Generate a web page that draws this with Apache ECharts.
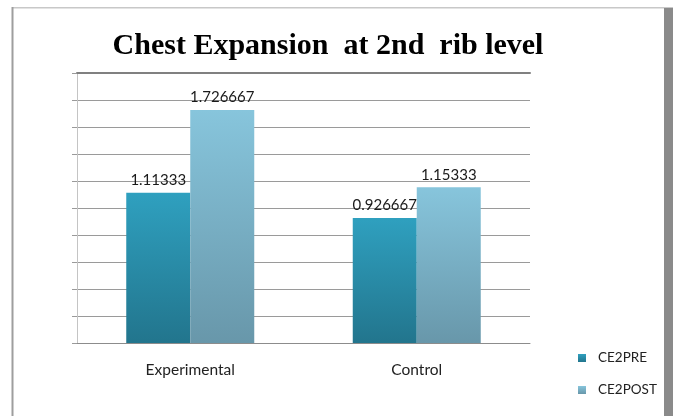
<!DOCTYPE html>
<html>
<head>
<meta charset="utf-8">
<script src="https://cdn.jsdelivr.net/npm/echarts@6/dist/echarts.min.js"></script>
<style>html,body{margin:0;padding:0;background:#fff;}#c{width:673px;height:416px;}</style>
</head>
<body>
<div id="c"></div>
<script>
var categories = ['Experimental', 'Control'];
var seriesNames = ['CE2PRE', 'CE2POST'];
var preValues = [1.11333, 0.926667];
var postValues = [1.726667, 1.15333];
var labelTexts = [['1.11333', '0.926667'], ['1.726667', '1.15333']];

function grad(top, bottom) {
  return new echarts.graphic.LinearGradient(0, 0, 0, 1, [
    {offset: 0, color: top}, {offset: 1, color: bottom}
  ]);
}
var labelFont = {fontFamily: 'Lato', fontSize: 15, color: '#1a1a1a'};

var chart = echarts.init(document.getElementById('c'), null, {renderer: 'canvas'});
chart.setOption({
  backgroundColor: '#fff',
  animation: false,
  title: {
    text: 'Chest Expansion  at 2nd  rib level',
    left: 323, top: 26, textAlign: 'center',
    textStyle: {fontFamily: 'Liberation Serif', fontWeight: 'bold', fontSize: 30, color: '#000'}
  },
  legend: {
    orient: 'vertical', left: 573, top: 346,
    itemWidth: 8, itemHeight: 8, itemGap: 18, icon: 'rect',
    data: seriesNames,
    textStyle: {fontFamily: 'Lato', fontSize: 13.5, color: '#222', padding: [0, 0, 0, 7]}
  },
  grid: {left: 77, right: 143, top: 73, bottom: 73},
  xAxis: [{
    type: 'category', data: categories, position: 'bottom',
    axisLine: {lineStyle: {color: '#8c8c8c', width: 1}},
    axisTick: {show: false},
    axisLabel: {fontFamily: 'Lato', fontSize: 15.5, color: '#222', margin: 19}
  }, {
    type: 'category', data: categories, position: 'top',
    axisLine: {lineStyle: {color: '#808080', width: 2}},
    axisTick: {show: false}, axisLabel: {show: false}
  }],
  yAxis: {
    type: 'value', min: 0, max: 2, interval: 0.2,
    axisLine: {show: true, lineStyle: {color: '#c4c4c4'}},
    axisTick: {show: true, length: 5, lineStyle: {color: '#9a9a9a'}},
    axisLabel: {show: false},
    splitLine: {lineStyle: {color: '#9a9a9a', width: 1}}
  },
  series: [{
    name: seriesNames[0], type: 'bar', barWidth: 64, barGap: '0%',
    data: preValues,
    itemStyle: {color: grad('#2fa0bf', '#22758d')},
    label: Object.assign({show: true, position: 'top', distance: 5,
      formatter: function (p) { return labelTexts[0][p.dataIndex]; }}, labelFont)
  }, {
    name: seriesNames[1], type: 'bar', barWidth: 64, barGap: '0%',
    data: postValues,
    itemStyle: {color: grad('#87c5dc', '#6897aa')},
    label: Object.assign({show: true, position: 'top', distance: 5,
      formatter: function (p) { return labelTexts[1][p.dataIndex]; }}, labelFont)
  }],
  graphic: [
    {type: 'rect', shape: {x: 12, y: 7, width: 661, height: 1.5}, style: {fill: '#c8c8c8'}, silent: true},
    {type: 'rect', shape: {x: 11.5, y: 7, width: 2, height: 409}, style: {fill: '#9e9e9e'}, silent: true},
    {type: 'rect', shape: {x: 664, y: 8, width: 9, height: 408}, style: {fill: '#8a8a8a'}, silent: true}
  ]
});
</script>
</body>
</html>
